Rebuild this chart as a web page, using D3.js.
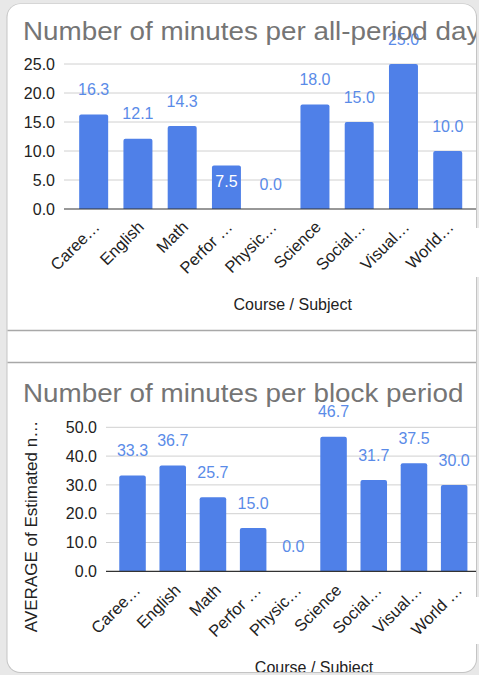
<!DOCTYPE html>
<html><head><meta charset="utf-8">
<script src="https://cdn.jsdelivr.net/npm/d3@7/dist/d3.min.js"></script>
<style>
html,body{margin:0;padding:0;background:#e8e8e8;}
svg{display:block;font-family:"Liberation Sans",Arial,sans-serif;}
</style></head><body>
<svg id="c" width="479" height="675"></svg>
<script>
const categories1 = ["Caree…","English","Math","Perfor …","Physic…","Science","Social…","Visual…","World…"];
const values1 = [16.3, 12.1, 14.3, 7.5, 0.0, 18.0, 15.0, 25.0, 10.0];
const ticks1 = [0, 5, 10, 15, 20, 25];
const title1 = "Number of minutes per all-period day";

const categories2 = ["Caree…","English","Math","Perfor …","Physic…","Science","Social…","Visual…","World …"];
const values2 = [33.3, 36.7, 25.7, 15.0, 0.0, 46.7, 31.7, 37.5, 30.0];
const ticks2 = [0, 10, 20, 30, 40, 50];
const title2 = "Number of minutes per block period";
const xTitle = "Course / Subject";
const yTitle2 = "AVERAGE of Estimated n…";

const BAR = "#4f80e8", LABEL = "#5a8be8", GRID = "#d0d0d0", TEXT = "#222", TITLE = "#757575";
const svg = d3.select("#c");

// card
svg.append("rect").attr("x",0).attr("y",0).attr("width",479).attr("height",675).attr("fill","#e8e8e8");
svg.append("rect").attr("x",6.5).attr("y",3.5).attr("width",470.5).attr("height",669.5).attr("rx",14)
  .attr("fill","#c4c4c4");
svg.append("rect").attr("x",7.5).attr("y",4).attr("width",468.5).attr("height",668).attr("rx",13)
  .attr("fill","#fff");
// white patches at right edge
svg.append("rect").attr("x",470).attr("y",228).attr("width",9).attr("height",49).attr("fill","#fff");
svg.append("rect").attr("x",470).attr("y",597).attr("width",9).attr("height",47).attr("fill","#fff");

svg.append("defs").append("clipPath").attr("id","card")
  .append("rect").attr("x",7.5).attr("y",4).attr("width",468.5).attr("height",668).attr("rx",13);

const g = svg.append("g").attr("clip-path","url(#card)");

// separator lines
[330.5, 362.5].forEach(y => g.append("line").attr("x1",7).attr("x2",477).attr("y1",y).attr("y2",y)
  .attr("stroke","#a8a8a8").attr("stroke-width",1.5));

function topRounded(x, y, w, h, r) {
  r = Math.min(r, h);
  if (h <= 0) return "";
  return `M${x},${y+h}V${y+r}Q${x},${y} ${x+r},${y}H${x+w-r}Q${x+w},${y} ${x+w},${y+r}V${y+h}Z`;
}

function chart(o) {
  const x = d3.scaleBand().domain(o.cats).range(o.xr).paddingInner(o.pi).paddingOuter(o.po);
  const y = d3.scaleLinear().domain([0, d3.max(o.ticks)]).range(o.yr);
  const c = g.append("g");
  // grid
  c.selectAll(".grid").data(o.ticks.filter(t => t > 0)).enter().append("line")
    .attr("x1", o.xr[0]).attr("x2", 479).attr("y1", d => y(d)).attr("y2", d => y(d))
    .attr("stroke", GRID).attr("stroke-width", 1);
  // y axis labels
  const ax = d3.axisLeft(y).tickValues(o.ticks).tickFormat(d3.format(".1f")).tickSize(0).tickPadding(0);
  const ag = c.append("g").attr("transform", `translate(${o.tickX},0)`).call(ax);
  ag.select(".domain").remove();
  ag.selectAll("text").attr("font-size", 16).attr("fill", TEXT).attr("font-family","Liberation Sans, Arial, sans-serif");
  // data labels (drawn before title so title overlaps)
  c.selectAll(".lbl").data(o.vals).enter().append("text")
    .attr("x", (d, i) => x(o.cats[i]) + x.bandwidth() / 2)
    .attr("y", (d, i) => o.inside[i] ? y(d) + 16 : y(d) - 25)
    .attr("dy", "0.35em").attr("text-anchor", "middle").attr("font-size", 16)
    .attr("fill", (d, i) => o.inside[i] ? "#fff" : LABEL)
    .text(d => d3.format(".1f")(d));
  // bars
  c.selectAll(".bar").data(o.vals).enter().append("path")
    .attr("d", (d, i) => topRounded(x(o.cats[i]), y(d), x.bandwidth(), y(0) - y(d), 2))
    .attr("fill", BAR);
  // redraw inside labels on top of bars
  c.selectAll(".lbl2").data(o.vals.map((v,i)=>({v,i})).filter(d=>o.inside[d.i])).enter().append("text")
    .attr("x", d => x(o.cats[d.i]) + x.bandwidth() / 2)
    .attr("y", d => y(d.v) + 16)
    .attr("dy", "0.35em").attr("text-anchor", "middle").attr("font-size", 16)
    .attr("fill", "#fff").text(d => d3.format(".1f")(d.v));
  // baseline
  c.append("line").attr("x1", o.xr[0]).attr("x2", 479).attr("y1", y(0)).attr("y2", y(0))
    .attr("stroke", "#333").attr("stroke-width", 1.2);
  // x labels
  c.selectAll(".xl").data(o.cats).enter().append("text")
    .attr("transform", d => `translate(${x(d) + x.bandwidth() / 2 + o.lx},${y(0) + o.ly}) rotate(-45)`)
    .attr("text-anchor", "end").attr("font-size", 16.5).attr("fill", TEXT).text(d => d);
  // titles
  c.append("text").attr("transform", `translate(23,${o.titleY}) scale(1.07,1)`)
    .attr("font-size", 26).attr("fill", TITLE).text(o.title);
  c.append("text").attr("x", o.xtX).attr("y", o.xtY).attr("text-anchor", "middle")
    .attr("font-size", 16).attr("fill", TEXT).text(xTitle);
  return c;
}

chart({cats: categories1, vals: values1, ticks: ticks1, title: title1,
  xr: [64, 477.4], pi: 0.345, po: 0.343, yr: [209, 64], tickX: 55,
  inside: values1.map(v => v === 7.5), lx: 7, ly: 19, titleY: 39.5, xtX: 292.7, xtY: 310});

const c2 = chart({cats: categories2, vals: values2, ticks: ticks2, title: title2,
  xr: [106, 480.7], pi: 0.34, po: 0.33, yr: [571.3, 427.3], tickX: 97,
  inside: values2.map(() => false), lx: 9, ly: 20, titleY: 401.7, xtX: 314, xtY: 673});

c2.append("text").attr("transform", "translate(37,526.5) rotate(-90)").attr("text-anchor", "middle")
  .attr("font-size", 17).attr("fill", TEXT).text(yTitle2);
</script>
</body></html>
